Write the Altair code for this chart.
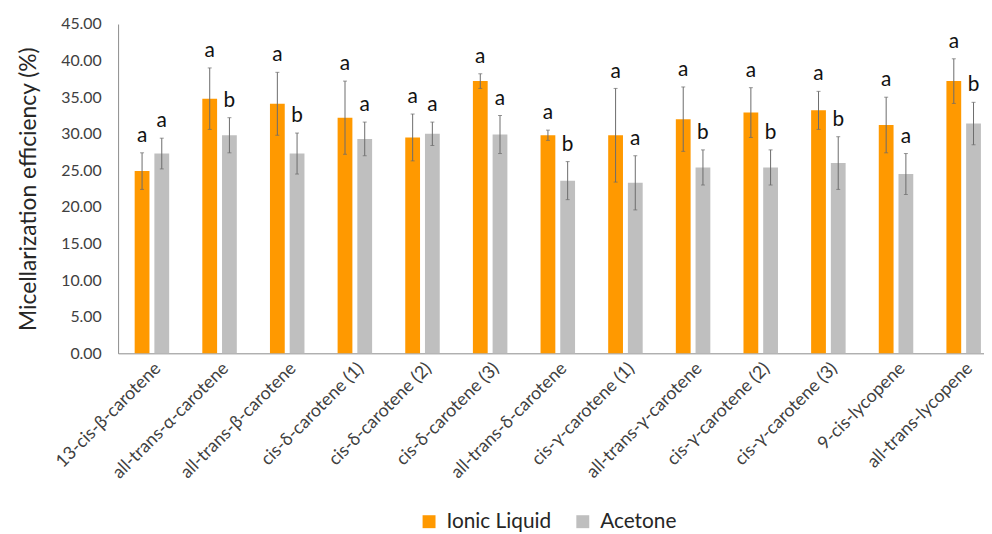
import altair as alt
import pandas as pd

categories = ["13-cis-β-carotene", "all-trans-α-carotene", "all-trans-β-carotene",
              "cis-δ-carotene (1)", "cis-δ-carotene (2)", "cis-δ-carotene (3)",
              "all-trans-δ-carotene", "cis-γ-carotene (1)", "all-trans-γ-carotene",
              "cis-γ-carotene (2)", "cis-γ-carotene (3)", "9-cis-lycopene",
              "all-trans-lycopene"]
series = ["Ionic Liquid", "Acetone"]
il_mean = [24.9, 34.8, 34.1, 32.2, 29.5, 37.2, 29.8, 29.8, 32.0, 32.9, 33.2, 31.2, 37.2]
il_err = [2.5, 4.2, 4.3, 5.0, 3.2, 1.0, 0.7, 6.4, 4.4, 3.4, 2.6, 3.8, 3.05]
ac_mean = [27.3, 29.8, 27.3, 29.3, 30.0, 29.9, 23.6, 23.3, 25.4, 25.4, 26.0, 24.5, 31.4]
ac_err = [2.1, 2.4, 2.8, 2.3, 1.6, 2.6, 2.6, 3.7, 2.4, 2.4, 3.6, 2.8, 2.9]
il_letters = ["a"] * 13
ac_letters = ["a", "b", "b", "a", "a", "a", "b", "a", "b", "b", "b", "a", "b"]
y_ticks = [0, 5, 10, 15, 20, 25, 30, 35, 40, 45]

rows = []
for i, c in enumerate(categories):
    rows.append({"cat": c, "series": series[0], "mean": il_mean[i],
                 "lo": il_mean[i] - il_err[i], "hi": il_mean[i] + il_err[i], "letter": il_letters[i]})
    rows.append({"cat": c, "series": series[1], "mean": ac_mean[i],
                 "lo": ac_mean[i] - ac_err[i], "hi": ac_mean[i] + ac_err[i], "letter": ac_letters[i]})
df = pd.DataFrame(rows)

FONT = "Lato"
YTITLE = "Micellarization efficiency (%)"
yscale = alt.Scale(domain=[0, 45], nice=False, zero=True)
xscale = alt.Scale(range=[0, 886.6], paddingInner=0.49, paddingOuter=0.245)

xaxis = alt.Axis(labelAngle=-45, labelFontSize=18, labelColor="#404040",
                 labelFont=FONT, ticks=False, domainColor="#8c8c8c",
                 labelPadding=6, labelLimit=300, labelOverlap=False)
yaxis = alt.Axis(values=y_ticks, format=".2f", grid=False, ticks=False,
                 labelFontSize=16, labelColor="#404040", labelFont=FONT,
                 labelPadding=17, domainColor="#8c8c8c", labelOverlap=False,
                 titleFontSize=23, titleFontWeight="normal", titleFont=FONT,
                 titleColor="#262626", titlePadding=20)


def X():
    return alt.X("cat:N", sort=categories, title=None, scale=xscale, axis=xaxis)


def Y(field):
    return alt.Y(field, scale=yscale, title=YTITLE, axis=yaxis)


xo = alt.XOffset("series:N", sort=series, scale=alt.Scale(paddingInner=0.25, paddingOuter=0))

color = alt.Color("series:N", sort=series,
                  scale=alt.Scale(domain=series, range=["#FF9900", "#BFBFBF"]),
                  legend=alt.Legend(title=None, orient="none", legendX=303, legendY=491,
                                    direction="horizontal", symbolType="square",
                                    symbolSize=170, symbolStrokeWidth=0,
                                    labelFontSize=21, labelFont=FONT, labelColor="#262626",
                                    columnPadding=21, labelOffset=7))

base = alt.Chart(df)
bars = base.mark_bar().encode(x=X(), xOffset=xo, y=Y("mean:Q"), color=color)
rules = base.mark_rule(color="#6b6b6b", strokeWidth=1).encode(
    x=X(), xOffset=xo, y=Y("lo:Q"), y2="hi:Q")
cap_hi = base.mark_tick(color="#6b6b6b", thickness=1, size=4).encode(
    x=X(), xOffset=xo, y=Y("hi:Q"))
cap_lo = base.mark_tick(color="#6b6b6b", thickness=1, size=4).encode(
    x=X(), xOffset=xo, y=Y("lo:Q"))
letters = base.mark_text(fontSize=21, font=FONT, color="#111111", baseline="alphabetic",
                         dy=-11).encode(
    x=X(), xOffset=xo, y=Y("hi:Q"), text="letter:N")

chart = alt.layer(bars, rules, cap_hi, cap_lo, letters).properties(
    width=873, height=332,
    autosize=alt.AutoSizeParams(type="none"),
    padding={"left": 111, "top": 14, "right": 0, "bottom": 180},
).configure_view(stroke=None)

chart.save("out.html", embed_options={"renderer": "svg", "actions": False})
